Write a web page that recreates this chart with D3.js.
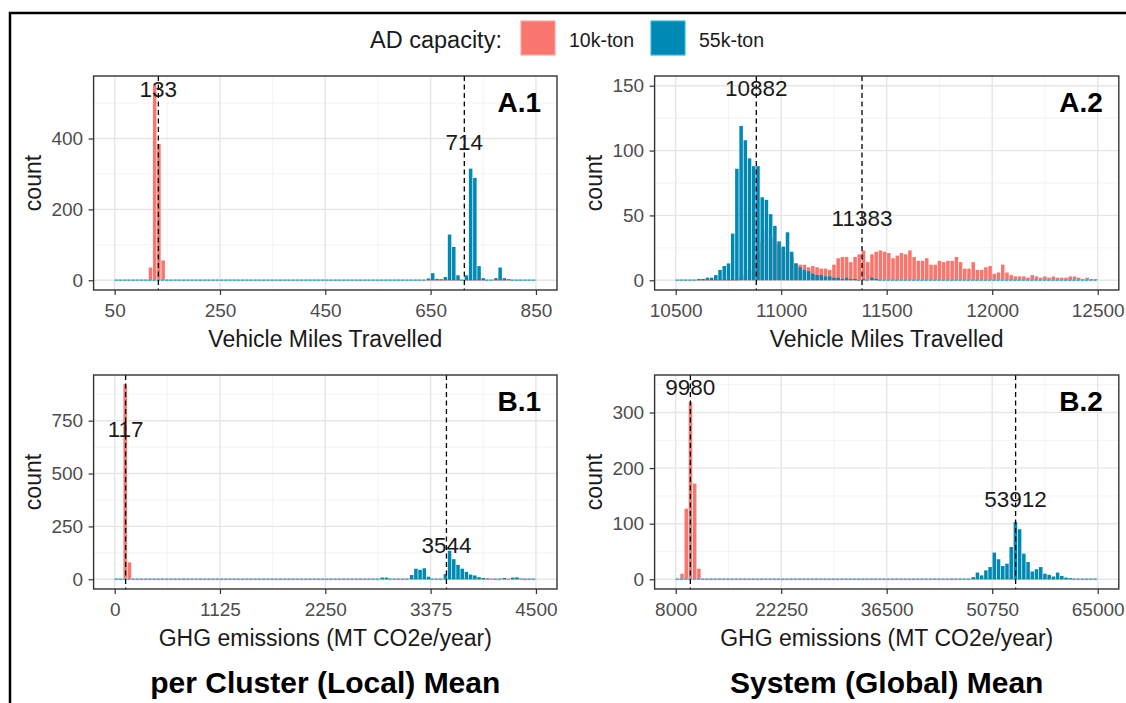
<!DOCTYPE html>
<html>
<head>
<meta charset="utf-8">
<script src="https://cdn.jsdelivr.net/npm/d3@7"></script>
<style>
  body { margin: 0; background: #fff; }
  svg text { font-family: "Liberation Sans", Arial, sans-serif; }
</style>
</head>
<body>
<div class="chart"></div>
<script>
/*------------------------------- data -------------------------------*/

const panelTags = ["A.1", "A.2", "B.1", "B.2"];
const binRanges = [[50, 850], [10500, 12500], [0, 4500], [8000, 65000]];
const nBins = 100;
const countMax = [549, 150, 920, 350];

const xTicks = [
    [50, 250, 450, 650, 850],
    [10500, 11000, 11500, 12000, 12500],
    [0, 1125, 2250, 3375, 4500],
    [8000, 22250, 36500, 50750, 65000]
];
const yTicks = [[0, 200, 400], [0, 50, 100, 150], [0, 250, 500, 750], [0, 100, 200, 300]];
const xTitles = ["Vehicle Miles Travelled", "Vehicle Miles Travelled",
    "GHG emissions (MT CO2e/year)", "GHG emissions (MT CO2e/year)"];
const colTitles = ["per Cluster (Local) Mean", "System (Global) Mean"];

// 10k-ton (red) histograms: first non-empty bin + counts
const redFirstBin = [8, 15, 2, 1];
const redA1 = [36, 549, 385, 56];
const redA2 = [2, 4, 8, 19, 22, 30, 39, 33, 30, 28, 25, 22, 18, 13, 12, 12, 10, 11, 10, 9, 9, 8, 12, 17, 18, 18, 14, 18, 20,
    23, 14, 20, 22, 23, 22, 21, 17, 19, 21, 20, 23, 18, 15, 15, 17, 12, 12, 15, 14, 15, 15, 18, 14, 9, 9, 14, 8, 8, 10, 11, 5, 6, 12, 6, 4,
    3, 3, 3, 2, 4, 3, 2, 3, 2, 3, 2, 2, 2, 3, 3, 2, 1, 2, 1, 1];
const redB1 = [923, 80];
const redB2 = [10, 127, 319, 172, 19];

// 55k-ton (blue) histograms
const blueFirstBin = [74, 5, 63, 70];
const blueA1 = [5, 20, 4, 3, 9, 129, 94, 14, 0, 14, 315, 289, 40, 6, 0, 0, 6, 36, 6, 3];
const blueA2 = [1, 1, 2, 2, 4, 8, 11, 13, 36, 86, 119, 108, 94, 88, 88, 64, 62, 51, 42, 30, 26, 37, 22, 13, 10,
    8, 7, 5, 4, 4, 3, 3, 2, 2, 1, 2, 1, 1, 0, 1, 0, 2, 1];
const blueB1 = [8, 8, 0, 0, 0, 0, 0, 20, 50, 45, 52, 12, 0, 0, 0, 25, 135, 95, 68, 50, 35, 22, 18, 10, 6, 4, 2, 0, 0, 6, 2, 8, 9, 3];
const blueB2 = [4, 12, 7, 16, 22, 48, 36, 24, 28, 58, 103, 90, 46, 31, 14, 18, 22, 10, 8, 5, 12, 6, 3, 2];

const redCounts = [redA1, redA2, redB1, redB2];
const blueCounts = [blueA1, blueA2, blueB1, blueB2];

// dashed mean lines and their labels
const meansRed = [133, 11383, 117, 9980];
const meansBlue = [714, 10882, 3544, 53912];
const labelYRed = [540, 48, 711, 346];
const labelYBlue = [390, 148, 160, 145];

/*------------------------------- layout -------------------------------*/

const size = { width: 1126, height: 703 };
const cols = [{ x0: 93.6, x1: 557 }, { x0: 654.6, x1: 1118.8 }];
const rows = [{ y0: 76, y1: 290 }, { y0: 375, y1: 589 }];

const color = {
    redFill: "#F8766D",
    redLine: "#F9A79E",
    blueFill: "#0089B4",
    blueLine: "#2BBADB"
};

const svg = d3.select(".chart").append("svg")
    .attr("width", size.width)
    .attr("height", size.height);

svg.append("rect").attr("width", size.width).attr("height", size.height).attr("fill", "#fff");

// outer frame (only top and left edges are in view)
svg.append("path")
    .attr("d", `M10,${size.height} L10,13 L${size.width},13`)
    .attr("fill", "none")
    .attr("stroke", "#000")
    .attr("stroke-width", 2.5);

const minors = (ticks, domain) => {
    const step = ticks[1] - ticks[0];
    const out = [];
    for (let v = ticks[0] - step / 2; v <= domain[1]; v += step) {
        if (v >= domain[0]) out.push(v);
    }
    return out;
};

const makeBins = (lo, hi, first, counts) => {
    const bw = (hi - lo) / nBins;
    return d3.range(nBins).map(k => ({
        x0: lo + k * bw,
        x1: lo + (k + 1) * bw,
        n: (k >= first && k - first < counts.length) ? counts[k - first] : 0
    }));
};

/*------------------------------- panels -------------------------------*/

const drawPanel = (i) => {
    const c = cols[i % 2];
    const r = rows[Math.floor(i / 2)];
    const [lo, hi] = binRanges[i];
    const pad = (hi - lo) * 0.05;

    const x = d3.scaleLinear().domain([lo - pad, hi + pad]).range([c.x0, c.x1]);
    const y = d3.scaleLinear().domain([-0.05 * countMax[i], 1.05 * countMax[i]]).range([r.y1, r.y0]);

    const g = svg.append("g");

    // grid
    const grid = g.append("g");
    grid.selectAll(".minx").data(minors(xTicks[i], x.domain())).join("line")
        .attr("x1", d => x(d)).attr("x2", d => x(d))
        .attr("y1", r.y0).attr("y2", r.y1)
        .attr("stroke", "#F2F2F2").attr("stroke-width", 0.9);
    grid.selectAll(".miny").data(minors(yTicks[i], y.domain())).join("line")
        .attr("y1", d => y(d)).attr("y2", d => y(d))
        .attr("x1", c.x0).attr("x2", c.x1)
        .attr("stroke", "#F2F2F2").attr("stroke-width", 0.9);
    grid.selectAll(".majx").data(xTicks[i]).join("line")
        .attr("x1", d => x(d)).attr("x2", d => x(d))
        .attr("y1", r.y0).attr("y2", r.y1)
        .attr("stroke", "#E6E6E6").attr("stroke-width", 1.4);
    grid.selectAll(".majy").data(yTicks[i]).join("line")
        .attr("y1", d => y(d)).attr("y2", d => y(d))
        .attr("x1", c.x0).attr("x2", c.x1)
        .attr("stroke", "#E6E6E6").attr("stroke-width", 1.4);

    // histograms: red first, blue on top
    const series = [
        { bins: makeBins(lo, hi, redFirstBin[i], redCounts[i]), fill: color.redFill, line: color.redLine, dash: null },
        { bins: makeBins(lo, hi, blueFirstBin[i], blueCounts[i]), fill: color.blueFill, line: color.blueLine, dash: "3,1.6" }
    ];
    series.forEach(s => {
        const sg = g.append("g");
        sg.selectAll("line").data(s.bins.filter(d => d.n === 0)).join("line")
            .attr("x1", d => x(d.x0)).attr("x2", d => x(d.x1))
            .attr("y1", y(0)).attr("y2", y(0))
            .attr("stroke", s.line)
            .attr("stroke-width", 1.6)
            .attr("stroke-dasharray", s.dash);
        sg.selectAll("rect").data(s.bins.filter(d => d.n > 0)).join("rect")
            .attr("x", d => x(d.x0) + 0.35)
            .attr("width", d => Math.max(0.5, x(d.x1) - x(d.x0) - 0.7))
            .attr("y", d => y(d.n))
            .attr("height", d => y(0) - y(d.n))
            .attr("fill", s.fill);
    });

    // mean lines
    const means = [meansRed[i], meansBlue[i]];
    g.selectAll(".mean").data(means).join("line")
        .attr("x1", d => x(d)).attr("x2", d => x(d))
        .attr("y1", r.y0).attr("y2", r.y1)
        .attr("stroke", "#000")
        .attr("stroke-width", 1.3)
        .attr("stroke-dasharray", "5,3.5");

    const labels = [
        { v: meansRed[i], y: labelYRed[i] },
        { v: meansBlue[i], y: labelYBlue[i] }
    ];
    g.selectAll(".meanLabel").data(labels).join("text")
        .attr("x", d => x(d.v))
        .attr("y", d => y(d.y))
        .attr("dy", "0.35em")
        .attr("text-anchor", "middle")
        .style("font-size", "22.5px")
        .style("fill", "#1a1a1a")
        .text(d => d.v);

    // panel tag
    g.append("text")
        .attr("x", c.x1 - 16)
        .attr("y", r.y0 + 36)
        .attr("text-anchor", "end")
        .style("font-size", "28px")
        .style("font-weight", "bold")
        .style("fill", "#000")
        .text(panelTags[i]);

    // border
    g.append("rect")
        .attr("x", c.x0).attr("y", r.y0)
        .attr("width", c.x1 - c.x0).attr("height", r.y1 - r.y0)
        .attr("fill", "none")
        .attr("stroke", "#333")
        .attr("stroke-width", 1.4);

    // axes
    const xAxis = g.append("g")
        .attr("transform", `translate(0,${r.y1})`)
        .call(d3.axisBottom(x).tickValues(xTicks[i]).tickFormat(d3.format("d")).tickSize(5).tickPadding(9).tickSizeOuter(0));
    const yAxis = g.append("g")
        .attr("transform", `translate(${c.x0},0)`)
        .call(d3.axisLeft(y).tickValues(yTicks[i]).tickFormat(d3.format("d")).tickSize(5).tickPadding(5.5).tickSizeOuter(0));
    [xAxis, yAxis].forEach(a => {
        a.select(".domain").remove();
        a.selectAll(".tick line").attr("stroke", "#333").attr("stroke-width", 1.2);
        a.selectAll(".tick text")
            .style("font-size", "19px")
            .style("font-family", "'Liberation Sans', Arial, sans-serif")
            .attr("fill", "#4D4D4D");
    });

    // axis titles
    g.append("text")
        .attr("x", (c.x0 + c.x1) / 2)
        .attr("y", r.y1 + 57)
        .attr("text-anchor", "middle")
        .style("font-size", "23px")
        .style("fill", "#1a1a1a")
        .text(xTitles[i]);
    g.append("text")
        .attr("transform", `translate(${c.x0 - 52.6},${(r.y0 + r.y1) / 2}) rotate(-90)`)
        .attr("text-anchor", "middle")
        .style("font-size", "23px")
        .style("fill", "#1a1a1a")
        .text("count");
};

d3.range(4).forEach(drawPanel);

/*------------------------------- column titles -------------------------------*/

svg.selectAll(".colTitle").data(colTitles).join("text")
    .attr("x", (d, j) => (cols[j].x0 + cols[j].x1) / 2)
    .attr("y", 693)
    .attr("text-anchor", "middle")
    .style("font-size", "30px")
    .style("font-weight", "bold")
    .style("fill", "#000")
    .text(d => d);

/*------------------------------- legend -------------------------------*/

const legendItems = [
    { label: "10k-ton", fill: color.redFill, line: color.redLine, x: 521 },
    { label: "55k-ton", fill: color.blueFill, line: color.blueLine, x: 651 }
];
const legend = svg.append("g").attr("id", "legend");
legend.append("text")
    .attr("x", 370).attr("y", 48)
    .style("font-size", "23.5px")
    .style("fill", "#1a1a1a")
    .text("AD capacity:");
const item = legend.selectAll(".item").data(legendItems).join("g");
item.append("rect")
    .attr("x", d => d.x).attr("y", 21)
    .attr("width", 34).attr("height", 34)
    .attr("fill", d => d.fill)
    .attr("stroke", d => d.line)
    .attr("stroke-width", 1.2);
item.append("text")
    .attr("x", d => d.x + 48).attr("y", 47)
    .style("font-size", "19.5px")
    .style("fill", "#1a1a1a")
    .text(d => d.label);
</script>
</body>
</html>
